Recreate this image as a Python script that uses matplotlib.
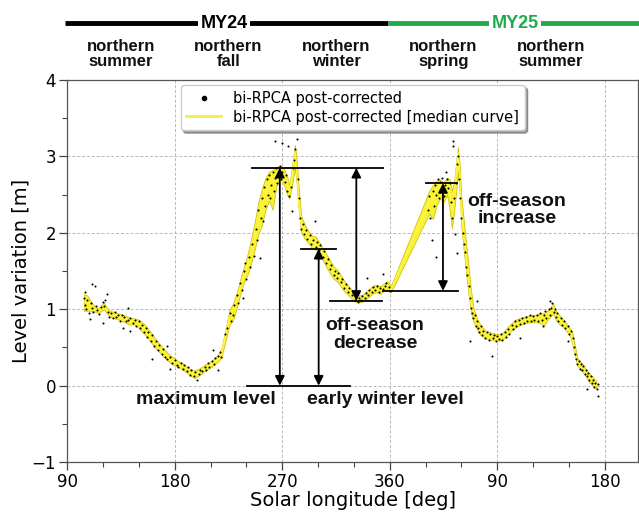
import matplotlib
matplotlib.use("Agg")
import matplotlib.pyplot as plt
import matplotlib.transforms as mtransforms
from matplotlib.lines import Line2D
import numpy as np

# ---------------- data ----------------
# median curve (solar longitude, continuous; second Mars year = Ls + 360)
med_ls = [104, 107, 110, 113, 116, 119, 121, 123, 126, 130, 134, 138, 142, 146, 149, 152, 155, 158,
          161, 164, 167, 170, 174, 178, 182, 186, 190, 194, 197, 200, 204, 208, 212, 216, 219,
          222, 226, 229, 232, 235, 238, 241, 244, 247, 250, 253, 256, 259, 262, 265, 268, 271,
          274, 276, 278, 280.5, 282, 284, 286, 289, 292, 295, 298, 301, 304, 307, 310, 313, 316,
          319, 322, 325, 328, 331, 334, 337, 340, 343, 346, 349, 352, 355, 358, 361,
          393, 396, 399, 402, 405, 408, 410, 412, 414, 416, 417, 418.5, 420, 422, 424, 426, 428,
          430, 433, 436, 440, 444, 448, 452, 455, 458, 462, 466, 470, 474, 478, 482, 486, 489,
          492, 494.5, 496.5, 499, 502, 505, 508, 511, 513, 515, 517, 519, 521, 524, 527, 530, 533]
med_lv = [1.10, 1.08, 1.03, 1.00, 0.98, 1.02, 1.06, 0.99, 0.94, 0.92, 0.90, 0.87, 0.85, 0.84, 0.82,
          0.78, 0.73, 0.67, 0.61, 0.55, 0.49, 0.44, 0.38, 0.33, 0.29, 0.26, 0.21, 0.17, 0.15, 0.18,
          0.22, 0.26, 0.30, 0.35, 0.42,
          0.62, 0.90, 1.00, 1.12, 1.30, 1.45, 1.58, 1.75, 1.95, 2.15, 2.32, 2.50, 2.62, 2.66, 2.76,
          2.82, 2.75, 2.62, 2.52, 2.72, 3.05, 2.85, 2.40, 2.10, 2.00, 1.94, 1.88, 1.86, 1.80, 1.72,
          1.63, 1.55, 1.48, 1.44, 1.38, 1.30, 1.25, 1.20, 1.15, 1.13, 1.14, 1.18, 1.22, 1.26, 1.27,
          1.25, 1.29, 1.32, 1.26,
          2.40, 2.45, 2.58, 2.62, 2.56, 2.66, 2.55, 2.30, 2.50, 2.85, 3.05, 2.75, 2.25, 1.95, 1.65,
          1.35, 1.08, 0.92, 0.80, 0.72, 0.67, 0.65, 0.63, 0.63, 0.66, 0.71, 0.77, 0.82, 0.84, 0.87,
          0.88, 0.88, 0.89, 0.90, 0.93, 0.97, 1.04, 0.93, 0.86, 0.82, 0.76, 0.70, 0.60, 0.45, 0.31,
          0.27, 0.24, 0.17, 0.10, 0.05, 0.01]
band_lo = [0.98, 0.98, 0.98, 0.97, 0.95, 0.98, 1.00, 0.95, 0.90, 0.88, 0.86, 0.83, 0.80, 0.80, 0.77,
           0.72, 0.67, 0.61, 0.55, 0.49, 0.44, 0.39, 0.33, 0.28, 0.25, 0.22, 0.17, 0.12, 0.10, 0.13,
           0.18, 0.22, 0.26, 0.31, 0.36,
           0.55, 0.80, 0.86, 1.02, 1.20, 1.35, 1.45, 1.60, 1.78, 1.98, 2.10, 2.30, 2.42, 2.30, 2.60,
           2.72, 2.65, 2.50, 2.45, 2.60, 2.85, 2.65, 2.25, 2.00, 1.92, 1.86, 1.80, 1.78, 1.72, 1.64,
           1.55, 1.47, 1.40, 1.36, 1.30, 1.23, 1.19, 1.14, 1.10, 1.09, 1.10, 1.13, 1.17, 1.21, 1.22,
           1.20, 1.24, 1.26, 1.22,
           2.25, 2.18, 2.35, 2.45, 2.40, 2.50, 2.30, 2.06, 2.30, 2.60, 2.80, 2.50, 2.05, 1.75, 1.45,
           1.18, 0.95, 0.84, 0.73, 0.66, 0.62, 0.60, 0.59, 0.59, 0.61, 0.66, 0.72, 0.77, 0.80, 0.82,
           0.83, 0.83, 0.82, 0.78, 0.86, 0.90, 0.95, 0.86, 0.80, 0.77, 0.71, 0.64, 0.52, 0.38, 0.26,
           0.22, 0.19, 0.12, 0.04, 0.00, -0.04]
band_hi = [1.20, 1.18, 1.10, 1.04, 1.01, 1.06, 1.09, 1.03, 0.98, 0.96, 0.94, 0.92, 0.89, 0.88, 0.87,
           0.84, 0.80, 0.74, 0.68, 0.61, 0.55, 0.50, 0.43, 0.38, 0.33, 0.30, 0.25, 0.21, 0.20, 0.22,
           0.26, 0.30, 0.34, 0.40, 0.48,
           0.70, 1.00, 1.08, 1.22, 1.40, 1.56, 1.72, 1.92, 2.15, 2.40, 2.58, 2.72, 2.80, 2.82, 2.86,
           2.88, 2.85, 2.75, 2.62, 2.85, 3.15, 2.98, 2.55, 2.22, 2.10, 2.02, 1.96, 1.95, 1.88, 1.80,
           1.72, 1.64, 1.56, 1.52, 1.45, 1.37, 1.31, 1.26, 1.20, 1.18, 1.19, 1.23, 1.27, 1.31, 1.32,
           1.30, 1.34, 1.37, 1.31,
           2.55, 2.62, 2.68, 2.70, 2.66, 2.72, 2.70, 2.55, 2.70, 3.00, 3.12, 2.90, 2.45, 2.15, 1.85,
           1.55, 1.25, 1.02, 0.88, 0.79, 0.72, 0.70, 0.68, 0.67, 0.70, 0.76, 0.82, 0.87, 0.89, 0.91,
           0.92, 0.93, 0.94, 0.95, 0.98, 1.02, 1.08, 0.98, 0.92, 0.87, 0.81, 0.75, 0.68, 0.52, 0.36,
           0.32, 0.29, 0.22, 0.16, 0.11, 0.06]

# individual post-corrected measurements (Ls, level)
scatter_pts = [
    (104, 1.15), (105, 1.05), (105, 1.22), (106, 1.00), (107, 1.12), (108, 0.95), (109, 0.87),
    (110, 1.08), (111, 1.33), (111, 1.02), (112, 0.96), (113, 1.31), (114, 1.04), (115, 0.99),
    (117, 0.94), (118, 1.03), (120, 0.82), (120, 1.10), (121, 1.04), (122, 1.12), (123, 1.20),
    (124, 0.96), (125, 0.90), (127, 0.95), (128, 0.89), (130, 0.97), (131, 0.90), (133, 0.93),
    (134, 0.85), (136, 0.92), (137, 0.76), (138, 0.90), (139, 0.84), (141, 1.01), (141, 0.86),
    (143, 0.72), (143, 0.88), (145, 0.82), (147, 0.86), (148, 0.78), (150, 0.84), (151, 0.76),
    (153, 0.80), (154, 0.70), (156, 0.75), (157, 0.64), (158, 0.70), (160, 0.58), (161, 0.35),
    (161, 0.66), (163, 0.52), (164, 0.58), (166, 0.47), (167, 0.53), (169, 0.42), (170, 0.48),
    (172, 0.38), (173.6, 0.52), (174, 0.35), (176, 0.22), (176, 0.37), (178, 0.30), (180, 0.34),
    (182, 0.27), (183, 0.24), (185, 0.29), (187, 0.22), (188, 0.27), (190, 0.19), (191, 0.24),
    (193, 0.14), (194, 0.20), (196, 0.12), (197, 0.18), (199, 0.07), (200, 0.15), (201, 0.21),
    (203, 0.19), (205, 0.25), (206, 0.20), (208, 0.29), (209, 0.24), (211, 0.32), (212, 0.46),
    (213, 0.28), (214, 0.36), (216, 0.20), (216, 0.39), (218, 0.44), (219, 0.38),
    (222, 0.68), (224, 0.75), (226, 0.95), (227, 0.85), (229, 0.92), (230, 1.05), (232, 1.18),
    (233, 1.08), (235, 1.34), (236, 1.25), (237, 1.15), (238, 1.50), (239, 1.61), (240, 1.40),
    (242, 1.68), (243, 1.55), (245, 1.85), (246, 1.70), (248, 2.05), (249, 1.90), (250, 2.30),
    (251, 1.67), (252, 2.20), (253, 2.45), (254, 2.15), (255, 2.60), (256, 2.35), (257, 2.70),
    (258, 2.50), (259, 2.75), (260, 2.45), (261, 2.62), (262, 2.80), (263, 2.55), (264, 3.20),
    (264, 2.72), (265, 2.85), (266, 2.65), (267, 2.78), (268, 2.88), (269, 2.70), (270, 3.18),
    (270, 2.80), (272, 2.66), (273, 2.76), (274, 2.55), (275, 3.14), (276, 2.48), (277, 2.60),
    (278, 2.29), (279, 2.85), (280, 2.95), (281, 3.10), (282, 3.23), (283, 2.70), (284, 2.45),
    (285, 2.20), (286, 2.05), (287, 2.12), (288, 1.98), (290, 2.04), (291, 1.92), (293, 1.97),
    (294, 1.85), (296, 1.90), (297.5, 2.16), (298, 1.82), (299, 1.88), (301, 1.77), (302, 1.84),
    (304, 1.68), (305, 1.76), (307, 1.60), (308, 1.66), (310, 1.52), (311, 1.58), (313, 1.45),
    (314, 1.50), (316, 1.41), (317, 1.47), (319, 1.35), (320, 1.40), (322, 1.28), (323, 1.33),
    (325, 1.22), (326, 1.28), (328, 1.18), (329, 1.22), (331, 1.12), (332, 1.17), (333, 1.10),
    (334, 1.15), (336, 1.12), (337, 1.17), (339, 1.15), (340, 1.21), (341, 1.41), (342, 1.19),
    (343, 1.25), (345, 1.23), (346, 1.29), (348, 1.25), (349, 1.30), (351, 1.23), (352, 1.28),
    (354, 1.46), (354, 1.27), (356, 1.31), (357, 1.34), (359, 1.29), (360, 1.24),
    (392, 2.30), (393, 2.48), (394, 2.20), (395, 1.90), (396, 2.55), (397, 2.35), (398, 2.62),
    (399, 1.68), (399, 2.50), (400, 2.70), (401, 2.45), (402, 2.66), (403, 2.55), (404, 2.72),
    (405, 2.48), (406, 2.62), (407, 2.80), (408, 2.70), (409, 2.58), (410, 2.65), (411, 2.40),
    (412, 2.20), (413, 3.20), (413, 3.14), (414, 2.45), (414.5, 1.99), (415, 2.65), (416, 1.73),
    (416, 2.90), (417, 3.00), (418, 2.70), (419, 2.45), (420, 2.20), (421, 2.00), (422, 1.85),
    (423, 1.75), (424, 1.55), (425, 1.45), (426, 1.30), (427, 0.59), (427, 1.15), (428, 1.02),
    (429, 0.95), (430, 0.88), (431, 0.92), (432, 0.78), (433, 1.11), (433, 0.84), (434, 0.75),
    (435, 0.70), (436, 0.78), (437, 0.66), (438, 0.72), (440, 0.63), (441, 0.70), (443, 0.60),
    (444, 0.68), (445.5, 0.39), (446, 0.62), (447, 0.66), (449, 0.58), (450, 0.65), (451, 0.61),
    (453, 0.67), (454, 0.60), (456, 0.70), (457, 0.64), (459, 0.74), (460, 0.68), (462, 0.80),
    (463, 0.74), (465, 0.84), (466, 0.78), (468, 0.86), (469, 0.63), (469, 0.81), (471, 0.88),
    (472, 0.82), (474, 0.90), (475, 0.84), (477, 0.92), (478, 0.85), (480, 0.91), (481, 0.86),
    (483, 0.93), (484, 0.84), (486, 0.95), (487, 0.86), (488, 0.78), (489, 0.92), (490, 0.98),
    (491, 0.88), (493, 1.00), (494, 1.11), (494, 0.92), (495, 1.02), (496, 1.08), (497, 0.96),
    (498, 1.00), (499, 0.90), (500, 0.95), (501, 0.85), (503, 0.89), (504, 0.80), (506, 0.84),
    (507, 0.75), (509, 0.59), (509, 0.78), (510, 0.68), (512, 0.72), (513, 0.62), (514, 0.50),
    (515, 0.42), (516, 0.35), (517, 0.28), (518, 0.32), (519, 0.22), (520, 0.28), (521, 0.20),
    (522, 0.26), (523, 0.15), (524, 0.20), (525, -0.04), (525, 0.12), (526, 0.16), (527, 0.08),
    (528, 0.13), (529, 0.03), (530, 0.08), (531, -0.02), (532, 0.04), (533, -0.05), (534, -0.13),
    (534, 0.02)]

x_ticks = [90, 180, 270, 360, 450, 540]
x_ticklabels = ["90", "180", "270", "360", "90", "180"]
y_ticks = [-1, 0, 1, 2, 3, 4]

season_ls = [135, 225, 315, 405, 495]
season_labels = ["northern\nsummer", "northern\nfall", "northern\nwinter",
                 "northern\nspring", "northern\nsummer"]

# annotation levels
max_level = 2.85
early_winter_level = 1.79
winter_min_level = 1.11
spring_base_level = 1.24
spring_peak_level = 2.65

# ---------------- figure ----------------
fig = plt.figure(figsize=(6.39, 5.14), dpi=100)
ax = fig.add_axes([0.105, 0.101, 0.894, 0.7435])

band_face = "#f7f232"
band_edge = "#cdbb00"
ax.fill_between(med_ls, band_lo, band_hi, facecolor=band_face, edgecolor=band_edge,
                linewidth=0.5, zorder=2)
ax.plot(med_ls, med_lv, color="#fff44a", lw=1.0, zorder=3)
sx, sy = zip(*scatter_pts)
ax.scatter(sx, sy, s=2.2, color="black", linewidths=0, zorder=4)

ax.set_xlim(90, 568)
ax.set_ylim(-1, 4)
ax.set_xticks(x_ticks)
ax.set_xticklabels(x_ticklabels)
ax.set_xticks(np.arange(90, 568, 30), minor=True)
ax.set_yticks(y_ticks)
ax.set_yticks([-0.5, 0.5, 1.5, 2.5, 3.5], minor=True)
ax.tick_params(axis="both", which="major", labelsize=12, length=6, width=0.9,
               color="#444444", pad=2)
ax.tick_params(axis="both", which="minor", length=3.5, width=0.8, color="#444444")
for sp in ax.spines.values():
    sp.set_color("#555555")
    sp.set_linewidth(0.9)
ax.grid(True, which="major", linestyle=(0, (3, 2)), color="#b8b8b8", linewidth=0.7)
ax.set_axisbelow(True)

ax.set_xlabel("Solar longitude [deg]", fontsize=14, labelpad=0)
ax.set_ylabel("Level variation [m]", fontsize=14, labelpad=1)

# legend
h1 = Line2D([], [], marker="o", markersize=3, color="black", linestyle="none")
h2 = Line2D([], [], color="#f2ef40", lw=2)
leg = ax.legend([h1, h2], ["bi-RPCA post-corrected", "bi-RPCA post-corrected [median curve]"],
                loc="upper center", fontsize=10.5, shadow=True, fancybox=True,
                borderaxespad=0.35, handlelength=2.4, labelspacing=0.25,
                framealpha=1, edgecolor="#cccccc")

# annotations
lk = dict(color="black", lw=1.3, zorder=5)
ax.plot([244.7, 354], [max_level, max_level], **lk)
ax.plot([240.5, 326.7], [0, 0], **lk)
ax.plot([285.7, 315], [early_winter_level, early_winter_level], **lk)
ax.plot([310, 353.5], [winter_min_level, winter_min_level], **lk)
ax.plot([354, 417], [spring_base_level, spring_base_level], **lk)
ax.plot([390, 416], [spring_peak_level, spring_peak_level], **lk)

ap = dict(arrowstyle="<|-|>", mutation_scale=14, lw=1.3, color="black",
          shrinkA=0, shrinkB=0)


def darrow(x, y0, y1):
    ax.annotate("", xy=(x, y1), xytext=(x, y0), arrowprops=ap, zorder=6)


darrow(268, 0, max_level)
darrow(300.5, 0, early_winter_level)
darrow(332, winter_min_level, max_level)
darrow(404.5, spring_base_level, spring_peak_level)

tk = dict(fontsize=14, fontweight="bold", family="Liberation Sans", ha="center",
          va="center", color="#111111", zorder=7)
ax.text(206, -0.18, "maximum level", **tk)
ax.text(356, -0.18, "early winter level", **tk)
ax.text(347.6, 0.67, "off-season\ndecrease", linespacing=1.05, **tk)
ax.text(466.4, 2.30, "off-season\nincrease", linespacing=1.05, **tk)

# top Mars-year bar and season labels
ty = 1 - 23 / 514
fig.add_artist(Line2D([65 / 639, 388 / 639], [ty, ty], color="black", lw=3.5,
                      solid_capstyle="butt"))
fig.add_artist(Line2D([388 / 639, 1.0], [ty, ty], color="#1daa4b", lw=3.5,
                      solid_capstyle="butt"))
fig.text(224 / 639, ty, "MY24", fontsize=13, fontweight="bold", family="Liberation Sans",
         ha="center", va="center", color="black",
         bbox=dict(facecolor="white", edgecolor="none", pad=1.5))
fig.text(515 / 639, ty, "MY25", fontsize=13, fontweight="bold", family="Liberation Sans",
         ha="center", va="center", color="#1daa4b",
         bbox=dict(facecolor="white", edgecolor="none", pad=1.5))

trans = mtransforms.blended_transform_factory(ax.transData, fig.transFigure)
for ls, lab in zip(season_ls, season_labels):
    ax.text(ls, 1 - 54 / 514, lab, transform=trans, fontsize=12, fontweight="bold",
            family="Liberation Sans", ha="center", va="center", linespacing=1.05,
            color="#111111", clip_on=False)

fig.savefig("out.png", dpi=100)
